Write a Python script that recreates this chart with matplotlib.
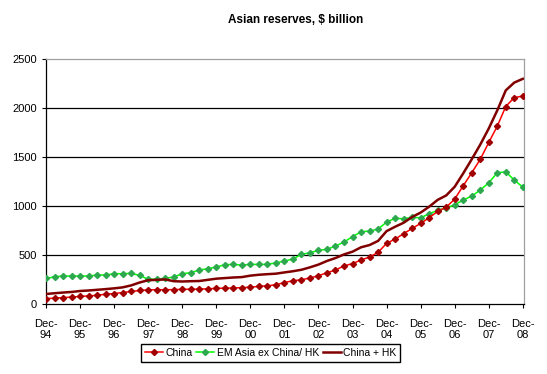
import numpy as np
import matplotlib
matplotlib.use("Agg")
import matplotlib.pyplot as plt

plt.rcParams['font.family'] = ['Liberation Sans', 'DejaVu Sans']

# quarterly, Dec-94 .. Dec-08
years = ['94', '95', '96', '97', '98', '99', '00', '01', '02', '03', '04', '05', '06', '07', '08']
tick_labels = ['Dec-\n' + y for y in years]

china = [50, 55, 60, 66, 72, 78, 84, 95, 102, 112,
         123, 133, 140, 141, 141, 142, 145, 146, 147, 150,
         155, 157, 158, 163, 166, 176, 181, 192, 214, 233,
         243, 261, 284, 315, 342, 385, 408, 445, 475, 523,
         615, 659, 714, 768, 819, 877, 942, 985, 1068, 1204,
         1337, 1474, 1647, 1814, 2015, 2107, 2121]

em_asia = [257, 272, 282, 281, 281, 281, 291, 291, 305, 305,
           308, 288, 247, 250, 257, 271, 305, 315, 342, 356,
           373, 397, 400, 393, 400, 400, 400, 416, 434, 455,
           503, 519, 544, 554, 588, 629, 683, 734, 741, 761,
           833, 871, 867, 881, 877, 918, 952, 976, 1010, 1058,
           1099, 1160, 1235, 1337, 1347, 1262, 1191]

china_hk = [97, 105, 112, 118, 128, 133, 140, 147, 155, 165,
            185, 215, 238, 242, 246, 228, 225, 228, 230, 242,
            254, 260, 266, 270, 285, 294, 300, 305, 318, 330,
            345, 370, 398, 435, 465, 502, 530, 575, 598, 640,
            740, 785, 826, 885, 930, 990, 1060, 1105, 1194, 1331,
            1475, 1625, 1790, 1975, 2180, 2260, 2298]

x = np.arange(len(china))

fig = plt.figure(figsize=(5.47, 3.74), dpi=100)
ax = fig.add_axes([0.0841, 0.1885, 0.874, 0.6535])

ax.plot(x, china, color='#FF0000', lw=1.1, marker='D', ms=3.1,
        markerfacecolor='#A00000', markeredgecolor='#A00000', label='China', zorder=4)
ax.plot(x, em_asia, color='#00FF00', lw=1.1, marker='D', ms=3.1,
        markerfacecolor='#2EA84E', markeredgecolor='#2EA84E', label='EM Asia ex China/ HK', zorder=3)
ax.plot(x, china_hk, color='#800000', lw=1.8, label='China + HK', zorder=5)

ax.set_ylim(0, 2500)
ax.set_xlim(0, 56.15)
ax.set_yticks(np.arange(0, 2501, 500))
ax.set_xticks(np.arange(0, 57, 4))
ax.set_xticklabels(tick_labels)
ax.tick_params(labelsize=8, length=3, colors='black')
ax.tick_params(axis='x', pad=8)

for v in range(500, 2500, 500):
    ax.axhline(v, color='black', lw=0.9, zorder=1)

ax.spines['top'].set_color('#A0A0A0')
ax.spines['right'].set_color('#A0A0A0')
ax.spines['left'].set_color('black')
ax.spines['bottom'].set_color('black')
for s in ax.spines.values():
    s.set_linewidth(0.9)

fig.text(0.54, 0.947, 'Asian reserves, $ billion', ha='center', va='center',
         fontsize=8.5, fontweight='bold')

fig.legend(loc='center', bbox_to_anchor=(0.495, 0.056), ncol=3, fontsize=7.5,
           frameon=True, fancybox=False, edgecolor='black', handlelength=1.7,
           handletextpad=0.25, columnspacing=0.4, borderpad=0.35, framealpha=1)

fig.savefig('out.png', dpi=100)
